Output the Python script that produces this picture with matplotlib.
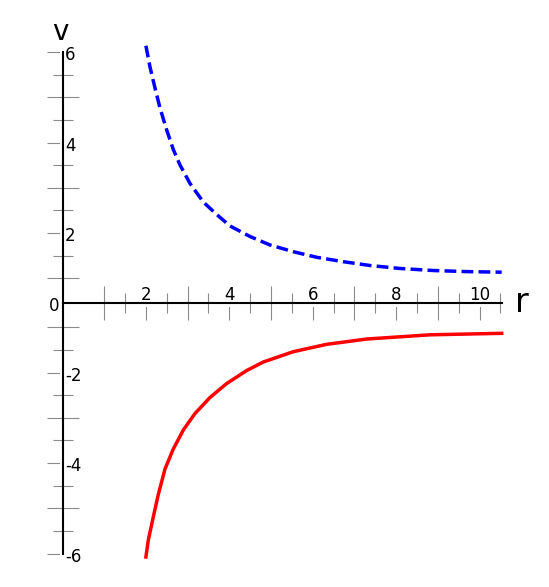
import matplotlib
matplotlib.use("Agg")
import matplotlib.pyplot as plt
import numpy as np

# values
r_blue = [2.0, 2.098, 2.218, 2.338, 2.499, 2.657, 2.818, 3.058, 3.376, 3.698, 4.017,
          4.496, 4.976, 5.535, 6.096, 6.734, 7.374, 8.094, 8.892, 9.693, 10.532]
v_blue = [6.14, 5.670, 5.206, 4.764, 4.277, 3.846, 3.504, 3.095, 2.686, 2.410, 2.156,
          1.924, 1.736, 1.588, 1.464, 1.367, 1.283, 1.217, 1.172, 1.148, 1.135]

r_red = [2.0, 2.058, 2.177, 2.297, 2.458, 2.657, 2.897, 3.177, 3.537, 3.938, 4.417,
         4.815, 5.535, 6.336, 7.295, 8.813, 10.532]
v_red = [-6.076, -5.700, -5.192, -4.695, -4.131, -3.689, -3.270, -2.905, -2.551, -2.242,
         -1.955, -1.767, -1.539, -1.376, -1.259, -1.166, -1.133]

x_labels = [2, 4, 6, 8, 10]
y_labels = [6, 4, 2, -2, -4, -6]


# the v axis of the drawing is squeezed near zero (no ticks at +-0.5)
def fwd(v):
    v = np.asarray(v, dtype=float)
    return np.where(np.abs(v) >= 1, v * 45.25 - np.sign(v) * 20.75, v * 24.5)


def inv(p):
    p = np.asarray(p, dtype=float)
    return np.where(np.abs(p) >= 24.5, (p + np.sign(p) * 20.75) / 45.25, p / 24.5)


fig = plt.figure(figsize=(5.49, 5.87), dpi=100)
ax = fig.add_axes([0, 0, 1, 1])
ax.set_yscale("function", functions=(fwd, inv))
ax.set_xlim(-62.5 / 41.7, (549 - 62.5) / 41.7)
ax.set_ylim(inv(-284.2), inv(302.8))

ax.plot(r_blue, v_blue, color="#0000ff", lw=2.5, dashes=(3.4, 1.5), zorder=4)
ax.plot(r_red, v_red, color="#ff0000", lw=2.5, zorder=4)

# axes through the origin
for s in ["top", "right"]:
    ax.spines[s].set_visible(False)
ax.spines["left"].set_position(("data", 0))
ax.spines["bottom"].set_position(("data", 0))
ax.spines["left"].set_bounds(-6, 6)
ax.spines["bottom"].set_bounds(0, 10.55)
for s in ["left", "bottom"]:
    ax.spines[s].set_linewidth(1.5)
    ax.spines[s].set_zorder(5)

ax.set_xticks(np.arange(1, 11))
ax.set_xticks(np.arange(1.5, 11, 1.0), minor=True)
ax.set_yticks([v for v in range(-6, 7) if v != 0])
ax.set_yticks([v + 0.5 for v in range(-6, 6) if v not in (-1, 0)], minor=True)
ax.tick_params(which="both", direction="inout", color="#8a8a8a", width=0.8,
               labelbottom=False, labelleft=False)
ax.tick_params(axis="x", which="major", length=24.5)
ax.tick_params(axis="x", which="minor", length=14.8)
ax.tick_params(axis="y", which="major", length=23)
ax.tick_params(axis="y", which="minor", length=13.7)

for x in x_labels:
    ax.annotate(str(x), xy=(x, 0), xytext=(0, 2.8), textcoords="offset pixels",
                ha="center", va="baseline", fontsize=12, zorder=3,
                bbox=dict(facecolor="white", edgecolor="none", pad=2))
for y in y_labels:
    ax.annotate(str(y), xy=(0, y), xytext=(2.5, -3.3), textcoords="offset pixels",
                ha="left", va="center", fontsize=12, zorder=3,
                bbox=dict(facecolor="white", edgecolor="none", pad=3.5))
ax.annotate("0", xy=(0, 0), xytext=(-3, -2.8), textcoords="offset pixels",
            ha="right", va="center", fontsize=12)

fig.text(60 / 549, 1 - 40 / 587, "v", ha="center", va="baseline", fontsize=20)
fig.text(522 / 549, 1 - 312 / 587, "r", ha="center", va="baseline", fontsize=24)

fig.savefig("out.png", dpi=100, facecolor="white")
